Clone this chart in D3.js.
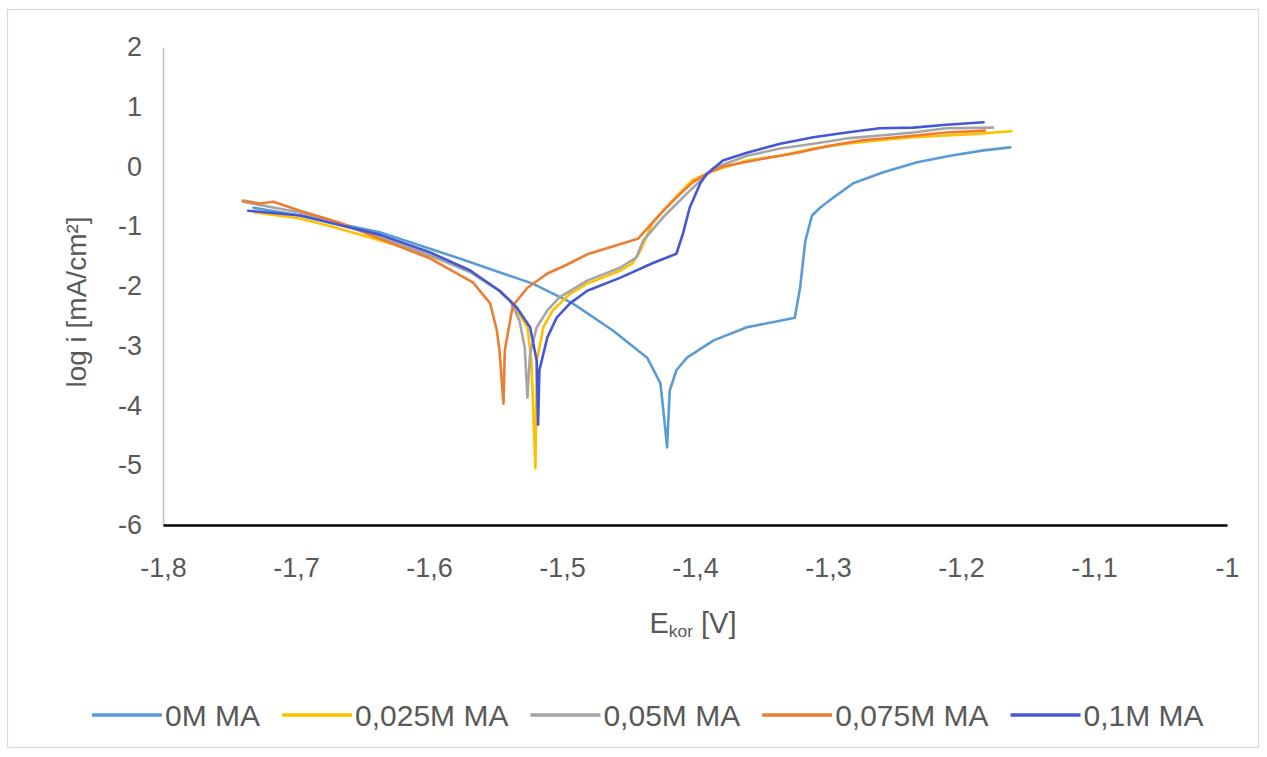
<!DOCTYPE html>
<html>
<head>
<meta charset="utf-8">
<script src="https://cdn.jsdelivr.net/npm/d3@7"></script>
<style>
  html, body { margin: 0; padding: 0; background: #fff; }
  svg { display: block; }
  text { font-family: "Liberation Sans", Arial, sans-serif; fill: #595959; }
</style>
</head>
<body>
<svg id="chart" width="1267" height="757"></svg>
<script>
// ---- data ----
const seriesNames = ["0M MA", "0,025M MA", "0,05M MA", "0,075M MA", "0,1M MA"];
const seriesColors = ["#5B9BD5", "#FFC000", "#A5A5A5", "#ED7D31", "#4458D4"];

const E_0 = [-1.732,-1.697,-1.637,-1.577,-1.522,-1.492,-1.462,-1.436,-1.426,-1.423,-1.421,-1.419,-1.414,-1.406,-1.386,-1.361,-1.336,-1.325,-1.321,-1.317,-1.312,-1.306,-1.296,-1.281,-1.259,-1.233,-1.208,-1.183,-1.163];
const L_0 = [-0.69,-0.82,-1.10,-1.54,-1.96,-2.29,-2.74,-3.20,-3.63,-4.25,-4.70,-3.75,-3.41,-3.20,-2.91,-2.69,-2.58,-2.53,-2.03,-1.24,-0.82,-0.69,-0.52,-0.28,-0.10,0.07,0.18,0.27,0.32];

const E_025 = [-1.731,-1.697,-1.674,-1.624,-1.574,-1.547,-1.537,-1.526,-1.523,-1.520,-1.519,-1.514,-1.507,-1.494,-1.481,-1.456,-1.447,-1.441,-1.432,-1.417,-1.402,-1.386,-1.361,-1.336,-1.311,-1.286,-1.261,-1.236,-1.211,-1.186,-1.162];
const L_025 = [-0.77,-0.87,-1.00,-1.32,-1.69,-2.08,-2.29,-2.69,-3.25,-5.05,-3.25,-2.69,-2.41,-2.13,-1.96,-1.74,-1.62,-1.41,-0.95,-0.57,-0.23,-0.07,0.10,0.18,0.30,0.38,0.44,0.49,0.52,0.55,0.59];

const E_05 = [-1.740,-1.697,-1.637,-1.599,-1.569,-1.547,-1.539,-1.532,-1.528,-1.526,-1.524,-1.519,-1.511,-1.502,-1.481,-1.456,-1.444,-1.439,-1.424,-1.406,-1.386,-1.361,-1.336,-1.311,-1.286,-1.261,-1.236,-1.211,-1.176];
const L_05 = [-0.59,-0.77,-1.17,-1.49,-1.77,-2.08,-2.24,-2.58,-3.03,-3.87,-3.13,-2.69,-2.41,-2.19,-1.91,-1.69,-1.52,-1.24,-0.85,-0.45,-0.03,0.18,0.30,0.38,0.47,0.52,0.57,0.64,0.65];

const E_075 = [-1.740,-1.727,-1.717,-1.697,-1.667,-1.637,-1.599,-1.567,-1.554,-1.549,-1.547,-1.544,-1.543,-1.539,-1.537,-1.526,-1.511,-1.496,-1.481,-1.462,-1.443,-1.436,-1.426,-1.414,-1.402,-1.391,-1.379,-1.349,-1.323,-1.298,-1.274,-1.248,-1.211,-1.182];
const L_075 = [-0.57,-0.62,-0.59,-0.74,-0.94,-1.21,-1.54,-1.94,-2.29,-2.74,-3.08,-3.97,-3.08,-2.58,-2.33,-2.03,-1.79,-1.64,-1.47,-1.34,-1.21,-1.04,-0.79,-0.52,-0.27,-0.12,0.00,0.13,0.23,0.35,0.44,0.49,0.57,0.60];

const E_1 = [-1.736,-1.697,-1.637,-1.599,-1.569,-1.547,-1.534,-1.524,-1.519,-1.518,-1.517,-1.511,-1.504,-1.494,-1.481,-1.456,-1.432,-1.414,-1.409,-1.404,-1.396,-1.391,-1.379,-1.361,-1.336,-1.311,-1.286,-1.261,-1.236,-1.211,-1.183];
const L_1 = [-0.74,-0.82,-1.14,-1.44,-1.74,-2.08,-2.36,-2.69,-3.25,-4.32,-3.41,-2.86,-2.53,-2.29,-2.08,-1.86,-1.62,-1.46,-1.12,-0.69,-0.28,-0.12,0.10,0.23,0.38,0.49,0.57,0.64,0.65,0.70,0.74];

const xTicks = [-1.8,-1.7,-1.6,-1.5,-1.4,-1.3,-1.2,-1.1,-1];
const yTicks = [2,1,0,-1,-2,-3,-4,-5,-6];
const xTitle = "E";
const xTitleSub = "kor";
const xTitleRest = " [V]";
const yTitle = "log i [mA/cm²]";

// ---- chart ----
const svg = d3.select("#chart");
const FS = 27;
const FS_LEG = 30;

svg.append("rect").attr("x", 7.5).attr("y", 9.5).attr("width", 1251).attr("height", 738)
  .attr("fill", "#fff").attr("stroke", "#D9D9D9").attr("stroke-width", 1.2);

const x = d3.scaleLinear().domain([-1.8, -1]).range([163, 1227]);
const y = d3.scaleLinear().domain([-6, 2]).range([525, 47]);

const fmt = d => String(d).replace(".", ",");

// y axis
const gy = svg.append("g").attr("transform", "translate(163,0)")
  .call(d3.axisLeft(y).tickValues(yTicks).tickFormat(fmt).tickSize(0).tickPadding(21));
gy.select(".domain").attr("stroke", "#BFBFBF").attr("stroke-width", 1.5);
gy.selectAll("text").attr("font-size", FS).attr("fill", "#595959")
  .style("font-family", '"Liberation Sans", Arial, sans-serif');

// x axis
const gx = svg.append("g").attr("transform", "translate(0,525)")
  .call(d3.axisBottom(x).tickValues(xTicks).tickFormat(fmt).tickSize(0).tickPadding(33));
gx.select(".domain").attr("stroke", "#000").attr("stroke-width", 2.5);
gx.selectAll("text").attr("font-size", FS).attr("fill", "#595959")
  .style("font-family", '"Liberation Sans", Arial, sans-serif');

// series
const seriesE = [E_0, E_025, E_05, E_075, E_1];
const seriesL = [L_0, L_025, L_05, L_075, L_1];
const line = d3.line().x(d => x(d[0])).y(d => y(d[1])).curve(d3.curveLinear);

seriesNames.forEach((name, i) => {
  const pts = seriesE[i].map((e, k) => [e, seriesL[i][k]]);
  svg.append("path").datum(pts)
    .attr("fill", "none").attr("stroke", seriesColors[i])
    .attr("stroke-width", 2.6).attr("stroke-linejoin", "round").attr("stroke-linecap", "round")
    .attr("d", line);
});

// axis titles
svg.append("text").attr("transform", "translate(86,302) rotate(-90)")
  .attr("text-anchor", "middle").attr("font-size", 28).text(yTitle);

const xt = svg.append("text").attr("x", 693).attr("y", 633).attr("text-anchor", "middle").attr("font-size", 29);
xt.append("tspan").text(xTitle);
xt.append("tspan").attr("font-size", 29 * 0.6).attr("dy", 4).text(xTitleSub);
xt.append("tspan").attr("dy", -4).text(xTitleRest);

// legend
const legY = 715;
let lx = 92;
seriesNames.forEach((name, i) => {
  svg.append("line").attr("x1", lx).attr("x2", lx + 70).attr("y1", legY).attr("y2", legY)
    .attr("stroke", seriesColors[i]).attr("stroke-width", 3.5);
  const t = svg.append("text").attr("x", lx + 73).attr("y", legY).attr("dy", "0.36em")
    .attr("font-size", FS_LEG).text(name);
  lx = lx + 73 + t.node().getComputedTextLength() + 22;
});
</script>
</body>
</html>
